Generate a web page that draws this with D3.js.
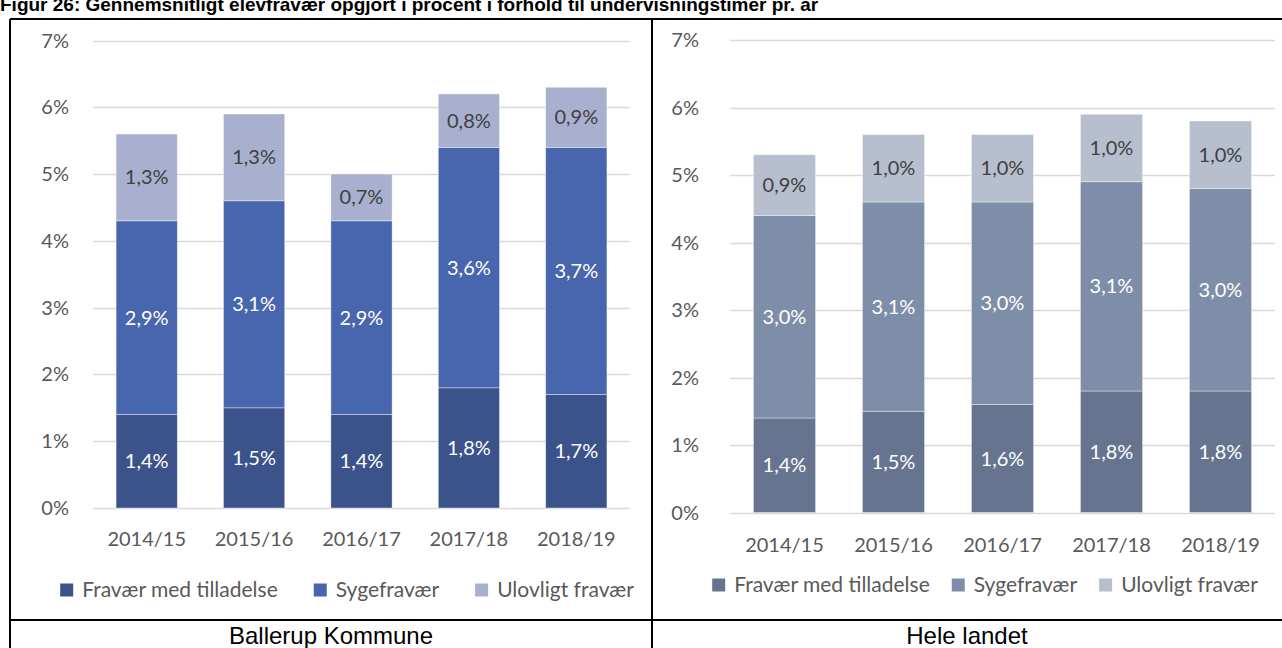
<!DOCTYPE html>
<html lang="da">
<head>
    <meta charset="UTF-8">
    <title>Elevfravær</title>
    <script type="text/javascript" src="https://cdn.jsdelivr.net/npm/d3@7"></script>
    <style>
        body { margin: 0; background: #fff; }
        svg { display: block; }
    </style>
</head>
<body>
<script type="text/javascript">
    var w = 1282;
    var h = 648;

    var years = ["2014/15", "2015/16", "2016/17", "2017/18", "2018/19"];
    var seriesNames = ["Fravær med tilladelse", "Sygefravær", "Ulovligt fravær"];
    var yTicks = [0, 1, 2, 3, 4, 5, 6, 7];

    // Ballerup Kommune
    var ballerupTilladelse = [1.4, 1.5, 1.4, 1.8, 1.7];
    var ballerupSyge = [2.9, 3.1, 2.9, 3.6, 3.7];
    var ballerupUlovligt = [1.3, 1.3, 0.7, 0.8, 0.9];

    // Hele landet
    var landetTilladelse = [1.4, 1.5, 1.6, 1.8, 1.8];
    var landetSyge = [3.0, 3.1, 3.0, 3.1, 3.0];
    var landetUlovligt = [0.9, 1.0, 1.0, 1.0, 1.0];

    var font = "Lato, 'Open Sans', sans-serif";
    var fs = 20;

    var svg = d3.select("body")
        .append("svg")
        .attr("width", w)
        .attr("height", h);

    // title, top is cut off like in the source
    svg.append("text")
        .attr("x", 0)
        .attr("y", 11)
        .attr("font-family", "'Liberation Sans', Arial, sans-serif")
        .attr("font-weight", "bold")
        .attr("font-size", "19px")
        .attr("fill", "#000")
        .text("Figur 26: Gennemsnitligt elevfravær opgjort i procent i forhold til undervisningstimer pr. år");

    function buildRows(a, b, c) {
        return years.map(function (y, i) {
            var row = {year: y};
            row[seriesNames[0]] = a[i];
            row[seriesNames[1]] = b[i];
            row[seriesNames[2]] = c[i];
            return row;
        });
    }

    function fmt(v) {
        return d3.format(".1f")(v).replace(".", ",") + "%";
    }

    function drawPanel(opt) {
        var rows = buildRows(opt.a, opt.b, opt.c);
        var stacked = d3.stack().keys(seriesNames)(rows);

        var x = d3.scaleBand()
            .domain(years)
            .range([opt.x0, opt.x1])
            .paddingInner(opt.pad)
            .paddingOuter(opt.pad / 2);

        var y = d3.scaleLinear()
            .domain([0, 7])
            .range([opt.y0, opt.y1]);

        var g = svg.append("g");

        // gridlines
        g.selectAll("line.grid")
            .data(yTicks).enter()
            .append("line")
            .attr("class", "grid")
            .attr("x1", opt.x0)
            .attr("x2", opt.x1)
            .attr("y1", function (d) { return Math.round(y(d)) + 0.5; })
            .attr("y2", function (d) { return Math.round(y(d)) + 0.5; })
            .attr("stroke", "#d9d9d9")
            .attr("stroke-width", 1.3);

        // y labels
        g.selectAll("text.ytick")
            .data(yTicks).enter()
            .append("text")
            .attr("class", "ytick")
            .attr("x", opt.tickX)
            .attr("y", function (d) { return y(d); })
            .attr("dy", "0.35em")
            .attr("text-anchor", "end")
            .attr("font-family", font)
            .attr("font-size", fs + "px")
            .attr("fill", "#595959")
            .text(function (d) { return d + "%"; });

        // x labels
        g.selectAll("text.xtick")
            .data(years).enter()
            .append("text")
            .attr("class", "xtick")
            .attr("x", function (d) { return x(d) + x.bandwidth() / 2; })
            .attr("y", opt.xLabelY)
            .attr("text-anchor", "middle")
            .attr("font-family", font)
            .attr("font-size", fs + "px")
            .attr("fill", "#595959")
            .text(function (d) { return d; });

        // bars
        var layers = g.selectAll("g.layer")
            .data(stacked).enter()
            .append("g")
            .attr("class", "layer")
            .attr("fill", function (d, i) { return opt.colors[i]; });

        layers.selectAll("rect")
            .data(function (d) { return d; }).enter()
            .append("rect")
            .attr("x", function (d) { return x(d.data.year); })
            .attr("y", function (d) { return y(d[1]); })
            .attr("width", x.bandwidth())
            .attr("height", function (d) { return y(d[0]) - y(d[1]); })
            .attr("stroke", "#fff")
            .attr("stroke-opacity", 0.5)
            .attr("stroke-width", 0.75);

        // data labels
        stacked.forEach(function (layer, li) {
            g.selectAll("text.lbl" + li)
                .data(layer).enter()
                .append("text")
                .attr("class", "lbl" + li)
                .attr("x", function (d) { return x(d.data.year) + x.bandwidth() / 2; })
                .attr("y", function (d) { return (y(d[0]) + y(d[1])) / 2; })
                .attr("dy", "0.35em")
                .attr("text-anchor", "middle")
                .attr("font-family", font)
                .attr("font-size", fs + "px")
                .attr("fill", li < 2 ? "#fff" : "#404040")
                .text(function (d) { return fmt(d[1] - d[0]); });
        });

        // legend
        var leg = g.append("g");
        var cx = 0;
        seriesNames.forEach(function (name, i) {
            leg.append("rect")
                .attr("x", cx)
                .attr("y", -6.5)
                .attr("width", 13)
                .attr("height", 13)
                .attr("fill", opt.colors[i]);
            var t = leg.append("text")
                .attr("x", cx + 13 + opt.legGap)
                .attr("y", 0)
                .attr("dy", "0.35em")
                .attr("font-family", font)
                .attr("font-size", "21px")
                .attr("fill", "#595959")
                .text(name);
            cx += 13 + opt.legGap + t.node().getComputedTextLength() + opt.itemGap;
        });
        cx -= opt.itemGap;
        leg.attr("transform", "translate(" + (opt.legCenter - cx / 2) + "," + opt.legY + ")");

        // panel title
        svg.append("text")
            .attr("x", opt.titleX)
            .attr("y", 644)
            .attr("text-anchor", "middle")
            .attr("font-family", "'Liberation Sans', Arial, sans-serif")
            .attr("font-size", "24px")
            .attr("fill", "#000")
            .text(opt.title);
    }

    drawPanel({
        a: ballerupTilladelse, b: ballerupSyge, c: ballerupUlovligt,
        colors: ["#3b528b", "#4866ad", "#a9b0cf"],
        x0: 93, x1: 630, y0: 508, y1: 40.5, pad: 0.43,
        tickX: 69, xLabelY: 546,
        legCenter: 347, legY: 590, legGap: 9, itemGap: 36,
        title: "Ballerup Kommune", titleX: 331
    });

    drawPanel({
        a: landetTilladelse, b: landetSyge, c: landetUlovligt,
        colors: ["#667490", "#7f8ea8", "#b7bfce"],
        x0: 730, x1: 1275, y0: 512.5, y1: 40, pad: 0.43,
        tickX: 699, xLabelY: 552,
        legCenter: 985, legY: 585, legGap: 9, itemGap: 22,
        title: "Hele landet", titleX: 967
    });

    // table borders
    var borders = [
        [10, 19, 1282, 19],
        [10, 19, 10, 648],
        [652, 19, 652, 648],
        [10, 620, 1282, 620]
    ];
    svg.selectAll("line.border")
        .data(borders).enter()
        .append("line")
        .attr("class", "border")
        .attr("x1", function (d) { return d[0]; })
        .attr("y1", function (d) { return d[1]; })
        .attr("x2", function (d) { return d[2]; })
        .attr("y2", function (d) { return d[3]; })
        .attr("stroke", "#000")
        .attr("stroke-width", 2);
</script>
</body>
</html>
